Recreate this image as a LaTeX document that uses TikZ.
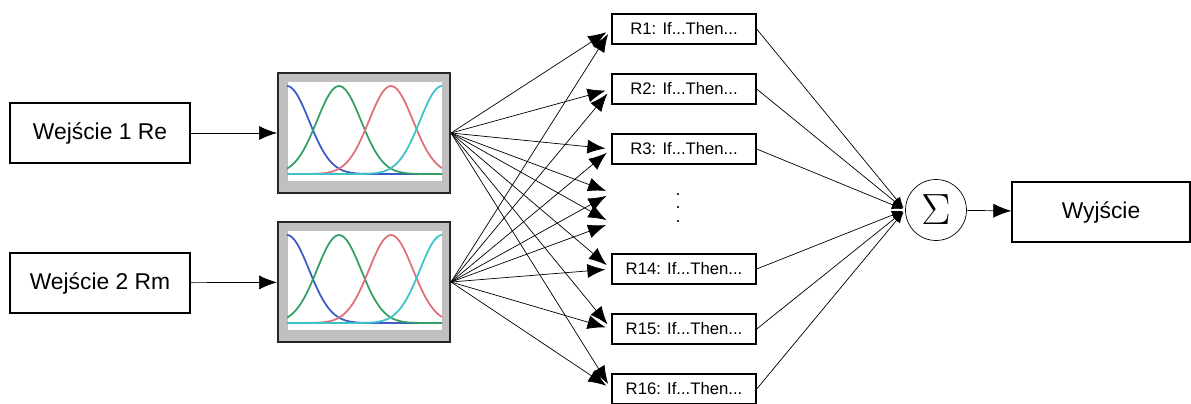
\documentclass[tikz,border=0pt]{standalone}
\usepackage{fontspec}
\setmainfont{Liberation Sans}
\usetikzlibrary{arrows.meta}

\definecolor{mfgray}{RGB}{192,192,192}
\definecolor{mfblue}{RGB}{60,90,200}
\definecolor{mfgreen}{RGB}{50,160,100}
\definecolor{mfred}{RGB}{225,110,120}
\definecolor{mfcyan}{RGB}{60,195,200}

\begin{document}
\begin{tikzpicture}
    [%%%%%%%%%%%%%%%%%%%%%%%%%%%%%%
        x=0.02cm, y=-0.02cm,
        inbox/.style={rectangle,draw=black,thick,minimum width=36mm,minimum height=12mm,font=\fontsize{13}{15}\selectfont},
        outbox/.style={rectangle,draw=black,thick,minimum width=35.6mm,minimum height=12mm,font=\fontsize{13}{15}\selectfont},
        mfbox/.style={rectangle,draw=black!85,line width=0.4mm,fill=mfgray,minimum width=34.4mm,minimum height=24mm},
        rulebox/.style={rectangle,draw=black,thick,minimum width=28.8mm,minimum height=6mm,font=\fontsize{9.5}{11}\selectfont},
        sumnode/.style={circle,draw=black,thin,minimum size=12.2mm,inner sep=0pt},
        hidden/.style={inner sep=0pt,minimum size=0pt},
        big/.style={-{Latex[length=3.6mm,width=2.8mm]}},
        small/.style={-{Latex[length=2.2mm,width=1.8mm]}},
        mf/.style={line width=0.35mm,domain=10:165,samples=70,smooth},
    ]%%%%%%%%%%%%%%%%%%%%%%%%%%%%%%
    \useasboundingbox (0,0) rectangle (1191,403);

    % inputs
    \node[inbox] (in1) at (100,133) {Wejście 1 Re};
    \node[inbox] (in2) at (100,283) {Wejście 2 Rm};

    % membership functions
    \node[mfbox] (mf1) at (364,133) {};
    \node[mfbox] (mf2) at (364,282) {};
    \foreach \m in {mf1,mf2} {
        \begin{scope}[shift={(\m.north west)}]
            \fill[white] (10,9) rectangle (165,109);
            \draw[gray!50] (10,9) rectangle (165,109);
            \draw[mf, mfblue]  plot (\x, {102-88*exp(-0.5*((\x-10)/22)^2)});
            \draw[mf, mfgreen] plot (\x, {102-88*exp(-0.5*((\x-62)/22)^2)});
            \draw[mf, mfred]   plot (\x, {102-88*exp(-0.5*((\x-114)/22)^2)});
            \draw[mf, mfcyan]  plot (\x, {102-88*exp(-0.5*((\x-165)/22)^2)});
        \end{scope}
    }

    % rules
    \node[rulebox] (r1) at (684,29) {R1: If...Then...};
    \node[rulebox] (r2) at (684,89) {R2: If...Then...};
    \node[rulebox] (r3) at (684,149) {R3: If...Then...};
    \node[hidden] (h1) at (612,193) {};
    \node[hidden] (h2) at (612,223) {};
    \node[align=center,inner sep=0pt,font=\bfseries\fontsize{7}{7.7}\selectfont] (dots) at (678,208) {.\\.\\.};
    \node[rulebox] (r14) at (684,269) {R14: If...Then...};
    \node[rulebox] (r15) at (684,329) {R15: If...Then...};
    \node[rulebox] (r16) at (684,389) {R16: If...Then...};

    % sum and output
    \node[sumnode] (sum) at (936,210) {\fontsize{32}{32}\selectfont$\Sigma$};
    \node[outbox] (out) at (1101,212) {Wyjście};

    \draw[big] (in1) -- (mf1);
    \draw[big] (in2) -- (mf2);
    \foreach \m in {mf1,mf2}
        \foreach \r in {r1,r2,r3,h1,h2,r14,r15,r16}
            \draw[big,shorten >=1.2mm] (\m.east) -- (\r.west);
    \foreach \r in {r1,r2,r3,r14,r15,r16}
        \draw[small,shorten >=0.5mm] (\r.east) -- (sum.west);
    \draw[big] (sum) -- (out);
\end{tikzpicture}
\end{document}
